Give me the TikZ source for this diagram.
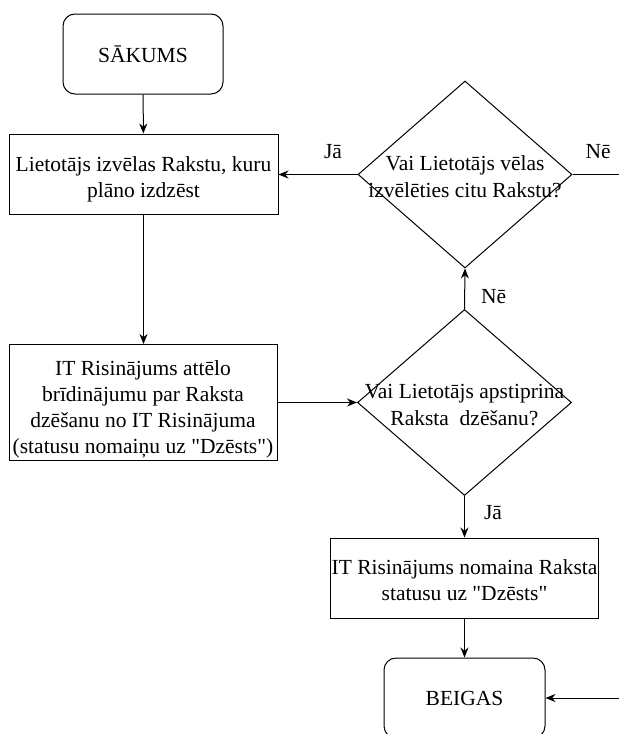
\documentclass[tikz,border=0pt]{standalone}
\usepackage{fontspec}
\setmainfont{Liberation Serif}[Ligatures=TeXReset]
\usepackage{tikz}
\usetikzlibrary{positioning, arrows.meta, shapes.geometric}
\tikzset{
  startbox/.style={draw, line width=1pt, rounded corners=12pt, minimum width=160pt, minimum height=80pt,
    inner sep=2pt, font=\fontsize{21.5}{26}\selectfont, align=center},
  procbox/.style={draw, line width=1pt, minimum width=268pt, minimum height=80pt,
    inner sep=1pt, font=\fontsize{21.5}{26}\selectfont, align=center},
  decbox/.style={draw, line width=1pt, diamond, minimum width=214pt, minimum height=187pt, inner sep=0pt},
  dtext/.style={font=\fontsize{21.5}{27}\selectfont, align=center},
  arr/.style={-{Stealth[length=10pt, width=8pt]}, line width=1pt},
  lbl/.style={font=\fontsize{21.5}{22}\selectfont, inner sep=1pt},
}
\begin{document}
\begin{tikzpicture}[x=1pt, y=-1pt]
  \useasboundingbox (0,0) rectangle (619,734);
  % nodes
  \node[startbox] (start) at (143,54) {SĀKUMS};
  \node[procbox, minimum width=269pt, text height=52pt] (choose) at (143.5,174) {Lietotājs izvēlas Rakstu, kuru\\plāno izdzēst};
  \node[procbox, minimum height=116pt, text height=106pt] (warn) at (143,402.5)
    {IT Risinājums attēlo\\brīdinājumu par Raksta\\dzēšanu no IT Risinājuma\\(statusu nomaiņu uz "Dzēsts")};
  \node[decbox] (again) at (465,174.5) {};
  \node[dtext] (againtxt) at (465,176.5) {Vai Lietotājs vēlas\\izvēlēties citu Rakstu?};
  \node[decbox, minimum height=186pt] (confirm) at (464.5,402.5) {};
  \node[dtext] (confirmtxt) at (464.5,405.5) {Vai Lietotājs apstiprina\\Raksta\ \ dzēšanu?};
  \node[procbox, minimum width=267pt, text height=45pt] (change) at (464.5,578) {IT Risinājums nomaina Raksta\\statusu uz "Dzēsts"};
  \node[startbox, minimum width=161pt] (finish) at (464.5,698) {BEIGAS};
  \coordinate (noout) at (619,174.5);
  \coordinate (endin) at (619,698);

  % connectors
  \draw[arr] (start) -- (choose);
  \draw[arr] (choose) -- (choose |- warn.north);
  \draw[arr] (warn.east) -- (confirm.west);
  \draw[arr] (confirm.north) -- node[lbl, pos=0.3, right=15pt] {Nē} (again.south);
  \draw[arr] (again.west) -- node[lbl, pos=0.31, above=14pt] {Jā} (choose.east |- again.west);
  \draw[line width=1pt] (again.east) -- node[lbl, pos=0.55, above=14pt] {Nē} (noout);
  \draw[arr] (confirm.south) -- node[lbl, pos=0.4, right=18pt] {Jā} (change.north);
  \draw[arr] (change) -- (finish);
  \draw[arr] (endin) -- (finish.east);
\end{tikzpicture}
\end{document}
